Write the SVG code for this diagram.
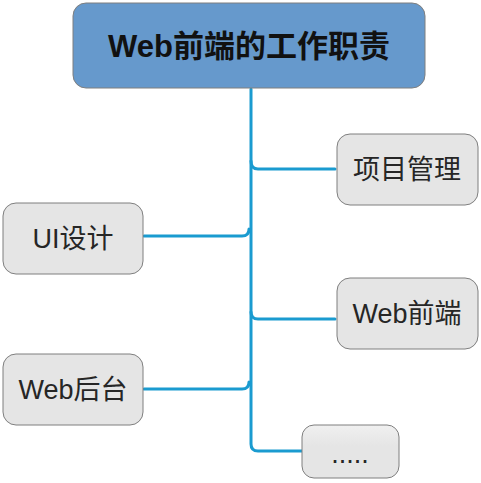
<svg xmlns="http://www.w3.org/2000/svg" width="481" height="483" viewBox="0 0 481 483">
<style>
.node{fill:#e5e5e5;stroke:#7f7f7f;stroke-width:1}
.root{fill:#6699cc;stroke:#7f7f7f;stroke-width:1}
.lbl{font-family:"Liberation Sans","Noto Sans CJK SC",sans-serif;font-size:27px;fill:#262626;text-anchor:middle;dominant-baseline:central}
.rlbl{font-family:"Liberation Sans","Noto Sans CJK SC",sans-serif;font-size:31px;font-weight:bold;fill:#111111;text-anchor:middle;dominant-baseline:central}
.conn{fill:none;stroke:#1a9bd0;stroke-width:3;stroke-linecap:round}
</style>
<defs>
<linearGradient id="g" x1="0" y1="0" x2="0" y2="1"><stop offset="0" stop-color="#f0f0f0"/><stop offset="0.4" stop-color="#e5e5e5"/></linearGradient>
</defs>
<g id="connectors">
<path class="conn" d="M251 89 V444 Q251 451 258 451 H302"/>
<path class="conn" d="M251 161 Q251 169 258 169 H335"/>
<path class="conn" d="M251 312 Q251 319 258 319 H335"/>
<path class="conn" d="M249 229 Q249 236 242 236 H144"/>
<path class="conn" d="M249 382 Q249 389 242 389 H144"/>
</g>
<g id="root">
<rect class="root" x="73" y="3" width="352" height="85" rx="13"/>
<text class="rlbl" x="249" y="46">Web前端的工作职责</text>
</g>
<g id="n1">
<rect class="node" x="337" y="134" width="141" height="71" rx="13"/>
<text class="lbl" x="407" y="170">项目管理</text>
</g>
<g id="n2">
<rect class="node" x="3" y="203" width="140" height="71" rx="13"/>
<text class="lbl" x="73" y="239">UI设计</text>
</g>
<g id="n3">
<rect class="node" x="337" y="278" width="141" height="71" rx="13"/>
<text class="lbl" x="407" y="314">Web前端</text>
</g>
<g id="n4">
<rect class="node" x="3" y="354" width="140" height="71" rx="13"/>
<text class="lbl" x="73" y="390">Web后台</text>
</g>
<g id="n5">
<rect class="node" x="302" y="425" width="97" height="53" rx="12" style="fill:url(#g)"/>
<text class="lbl" x="350" y="454">.....</text>
</g>
</svg>
